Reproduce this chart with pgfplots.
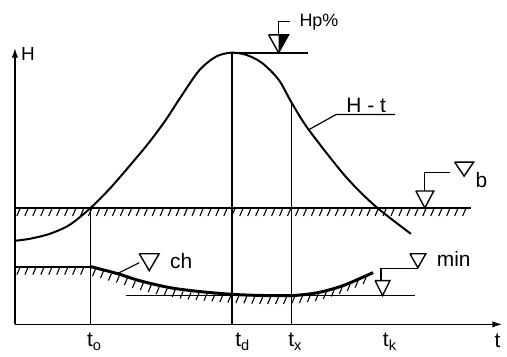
\documentclass[border=0pt]{standalone}
\usepackage{pgfplots}
\pgfplotsset{compat=1.18}
\usepackage{fontspec}
\setmainfont{Liberation Sans}
\usetikzlibrary{arrows.meta}

% short "/" strokes under a line (ground / bed hatching)
\pgfplotsset{hatch/.style={quiver={u=-3,v=-7}, -, no marks, black, line width=0.55pt}}

\begin{document}
\begin{tikzpicture}
\begin{axis}[scale only axis, width=245pt, height=139pt,
    xmin=15, xmax=505, ymin=0, ymax=278,
    axis lines=left,
    axis line style={line width=0.8pt, -{Latex[length=5pt,width=3.2pt]}},
    xtick={95,244,297,392},
    xticklabels={t\textsubscript{o}, t\textsubscript{d}, t\textsubscript{x}, t\textsubscript{k}},
    ytick=\empty, major tick length=0pt,
    xticklabel style={font=\fontsize{10.5}{11}\selectfont, yshift=-1pt},
    clip=false]
    % bounding box of the whole sketch
    \path (axis cs:0,-32) rectangle (axis cs:507,326);

    % H - t hydrograph
    \addplot[smooth, line width=1pt] coordinates {
        (15,84)(30,86)(50,91)(70,100)(91,117)(110,136)(130,159)(150,183)
        (167,206)(180,226)(200,255)(217,269)(232,273)(247,271)(263,263)
        (280,246)(293,223)(310,196)(347,149)(377,119)(413,91)};

    % vertical time lines
    \addplot[line width=0.5pt] coordinates {(91,0)(91,117)};
    \addplot[line width=0.9pt] coordinates {(233,0)(233,273)};
    \addplot[line width=0.9pt] coordinates {(293,0)(293,222)};

    % peak level Hp%
    \addplot[line width=0.8pt] coordinates {(228,273)(310,273)};
    \addplot[line width=0.7pt] coordinates {(270,291)(290,291)(280,273)(270,291)};
    \addplot[fill=black, draw=none] coordinates {(280,291)(290,291)(280,273)};
    \addplot[line width=0.6pt] coordinates {(280,291)(280,304)(291,304)};
    \node[anchor=west, font=\fontsize{9}{10}\selectfont] at (axis cs:294,304) {Hp\%};

    % H - t label
    \addplot[line width=0.6pt] coordinates {(311,196)(338,211)(397,211)};
    \node[font=\fontsize{10.5}{11}\selectfont] at (axis cs:368,220) {H - t};

    % bankfull level b
    \addplot[line width=0.9pt] coordinates {(15,117)(473,117)};
    \addplot[hatch] coordinates {
        (20,116)(28,116)(36,116)(44,116)(52,116)(60,116)(68,116)(76,116)
        (84,116)(92,116)(100,116)(108,116)(116,116)(124,116)(132,116)(140,116)
        (148,116)(156,116)(164,116)(172,116)(180,116)(188,116)(196,116)(204,116)
        (212,116)(220,116)(228,116)(236,116)(244,116)(252,116)(260,116)(268,116)
        (276,116)(284,116)(292,116)(300,116)(308,116)(316,116)(324,116)(332,116)
        (340,116)(348,116)(356,116)(364,116)(372,116)(380,116)(388,116)(396,116)
        (404,116)(412,116)(420,116)(428,116)(436,116)(444,116)(452,116)(460,116)
        (468,116)};
    \addplot[line width=0.7pt] coordinates {(418,134)(436,134)(427,117)(418,134)};
    \addplot[line width=0.6pt] coordinates {(427,134)(427,153)(452,153)};
    \addplot[line width=0.7pt] coordinates {(457,163)(476,163)(466.5,149)(457,163)};
    \node[font=\fontsize{10.5}{11}\selectfont] at (axis cs:484,145) {b};

    % channel bed
    \addplot[line width=0.9pt] coordinates {(15,58)(91,58)};
    \addplot[hatch] coordinates {
        (20,57)(28,57)(36,57)(44,57)(52,57)(60,57)(68,57)(76,57)(84,57)};
    \addplot[smooth, line width=1.5pt] coordinates {
        (91,58)(118,51)(140,44)(170,37)(200,33)(236,30)(265,29)(295,29)
        (320,32)(345,39)(375,52)};
    \addplot[hatch] coordinates {
        (96,55.5)(104,53.5)(112,51)(120,49)(128,46.5)(136,43.5)(144,41.5)
        (152,39.5)(160,37.5)(168,36)(176,34.5)(184,33)(192,32)(200,31.5)
        (208,30.8)(216,30.1)(224,29.5)(232,28.8)(240,28.4)(248,28.1)(256,27.8)
        (264,27.5)(272,27.5)(280,27.5)(288,27.5)(296,27.5)(304,28.5)(312,29.5)
        (320,30.5)(328,32.5)(336,35)(344,37.5)(352,40.5)(360,44)(368,47.5)};
    \addplot[line width=0.7pt] coordinates {(140,71)(160,71)(150,54)(140,71)};
    \addplot[line width=0.6pt] coordinates {(118,51)(140,62)};
    \node[anchor=west, font=\fontsize{10.5}{11}\selectfont] at (axis cs:164,64) {ch};

    % minimum level
    \addplot[line width=0.9pt] coordinates {(127,29)(417,29)};
    \addplot[line width=0.7pt] coordinates {(377,44)(392,44)(384.5,29)(377,44)};
    \addplot[line width=0.6pt] coordinates {(383,44)(383,56)(420,56)};
    \addplot[line width=0.7pt] coordinates {(412,71)(428,71)(420,57)(412,71)};
    \node[anchor=west, font=\fontsize{10.5}{11}\selectfont] at (axis cs:432,66) {min};

    % axis names
    \node[font=\fontsize{9.5}{10}\selectfont] at (axis cs:28,272) {H};
    \node[font=\fontsize{10.5}{11}\selectfont] at (axis cs:500,-17) {t};
\end{axis}
\end{tikzpicture}
\end{document}
